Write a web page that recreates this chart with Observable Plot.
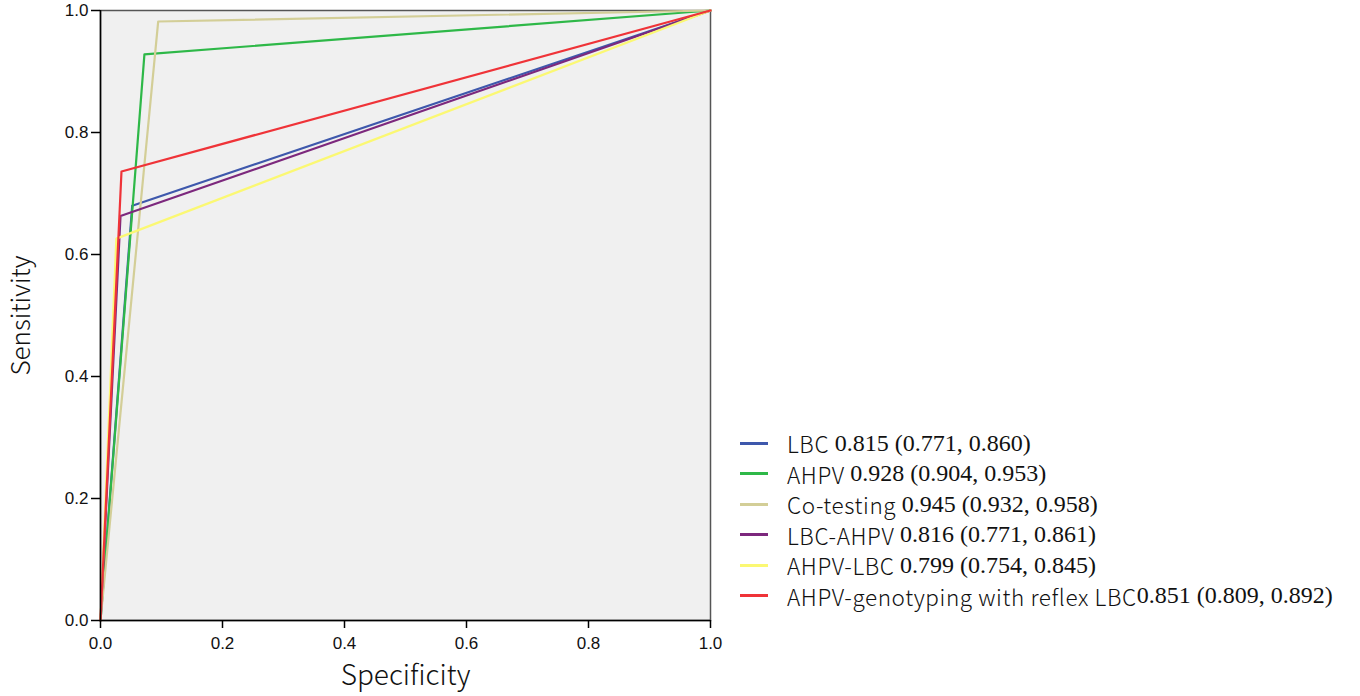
<!DOCTYPE html>
<html>
<head>
<meta charset="utf-8">
<script src="https://cdn.jsdelivr.net/npm/d3@7"></script>
<script src="https://cdn.jsdelivr.net/npm/@observablehq/plot@0.6"></script>
<style>
  html, body { margin: 0; padding: 0; background: #fff; }
  #wrap { position: relative; width: 1360px; height: 696px; }
  #legend { position: absolute; left: 740px; top: 428px; }
  .row { display: flex; align-items: center; height: 30.5px; white-space: nowrap; }
  .sw { width: 28px; height: 3px; margin-right: 19px; flex: none; }
  .lab { font-family: "Noto Sans CJK SC", "Noto Sans", sans-serif; font-weight: 300; font-size: 22.5px; letter-spacing: 0.6px; color: #111; white-space: pre; }
  .num { font-family: "Liberation Serif", "DejaVu Serif", serif; font-size: 24px; color: #111; }
</style>
</head>
<body>
<div id="wrap"></div>
<script>
const series = ["LBC", "AHPV", "Co-testing", "LBC-AHPV", "AHPV-LBC", "AHPV-genotyping with reflex LBC"];
const aucText = ["0.815 (0.771, 0.860)", "0.928 (0.904, 0.953)", "0.945 (0.932, 0.958)", "0.816 (0.771, 0.861)", "0.799 (0.754, 0.845)", "0.851 (0.809, 0.892)"];
const labelSep = [" ", " ", " ", " ", " ", ""];
const colors = ["#3E58AC", "#2EB848", "#D3CE97", "#7C287D", "#FBF873", "#EF3338"];
// ROC curve cut points (x = 1 - specificity as drawn, y = sensitivity)
const cornerX = [0.052, 0.072, 0.0946, 0.0328, 0.026, 0.0344];
const cornerY = [0.680, 0.928, 0.982, 0.663, 0.626, 0.736];
const xTicks = [0, 0.2, 0.4, 0.6, 0.8, 1.0];
const yTicks = [0, 0.2, 0.4, 0.6, 0.8, 1.0];

const rows = [];
series.forEach((s, i) => {
  rows.push({s, x: 0, y: 0});
  rows.push({s, x: cornerX[i], y: cornerY[i]});
  rows.push({s, x: 1, y: 1});
});

const tickFont = '"Liberation Sans", Arial, sans-serif';
const titleFont = '"Noto Sans CJK SC", "Noto Sans", sans-serif';

const chart = Plot.plot({
  width: 1360,
  height: 696,
  marginLeft: 100,
  marginRight: 650,
  marginTop: 10,
  marginBottom: 76,
  style: {background: "#fff"},
  x: {domain: [0, 1]},
  y: {domain: [0, 1]},
  color: {domain: series, range: colors},
  marks: [
    Plot.frame({fill: "#f0f0f0", stroke: "#555", strokeWidth: 1.5}),
    Plot.line(rows, {x: "x", y: "y", z: "s", stroke: "s", strokeWidth: 2.2}),
    Plot.axisX({ticks: xTicks, tickFormat: d3.format(".1f"), tickSize: 8, tickPadding: 8, fontSize: 17, label: null, stroke: "#000", strokeWidth: 1.5, fontFamily: tickFont, color: "#111"}),
    Plot.axisY({ticks: yTicks, tickFormat: d3.format(".1f"), tickSize: 9, tickPadding: 3, fontSize: 17, label: null, stroke: "#000", strokeWidth: 1.5, fontFamily: tickFont, color: "#111"}),
    Plot.ruleX([0], {stroke: "#000", strokeWidth: 1.5}),
    Plot.ruleY([0], {stroke: "#000", strokeWidth: 1.5}),
    Plot.text(["Specificity"], {frameAnchor: "bottom", lineAnchor: "middle", textAnchor: "middle", dy: 56, fontSize: 28, fontFamily: titleFont, fontWeight: 300, fill: "#111"}),
    Plot.text(["Sensitivity"], {frameAnchor: "left", lineAnchor: "middle", textAnchor: "middle", dx: -79, rotate: -90, fontSize: 26, fontFamily: titleFont, fontWeight: 300, fill: "#111"})
  ]
});

const wrap = document.getElementById("wrap");
wrap.appendChild(chart);

const legend = document.createElement("div");
legend.id = "legend";
series.forEach((s, i) => {
  const row = document.createElement("div");
  row.className = "row";
  const sw = document.createElement("div");
  sw.className = "sw";
  sw.style.background = colors[i];
  const lab = document.createElement("span");
  lab.className = "lab";
  lab.textContent = s + labelSep[i];
  const num = document.createElement("span");
  num.className = "num";
  num.textContent = aucText[i];
  row.append(sw, lab, num);
  legend.appendChild(row);
});
wrap.appendChild(legend);
</script>
</body>
</html>
